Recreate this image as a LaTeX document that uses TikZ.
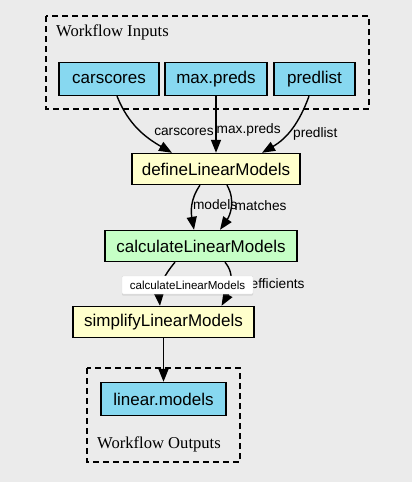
\documentclass[tikz,border=0pt]{standalone}
\usepackage{fontspec}
\setmainfont{Liberation Serif}
\setsansfont{Liberation Sans}
\usetikzlibrary{positioning}
\usetikzlibrary{arrows.meta}
\usetikzlibrary{shadows}
\definecolor{inblue}{RGB}{135,216,240}
\definecolor{stepyellow}{RGB}{255,255,204}
\definecolor{stepgreen}{RGB}{198,255,198}
\definecolor{bggray}{RGB}{235,235,235}
\tikzstyle{D} = [rectangle,draw,line width=1.4pt,fill=inblue,minimum height=33pt,inner sep=0pt,font=\sffamily\fontsize{17}{20}\selectfont]
\tikzstyle{P} = [rectangle,draw,line width=1.4pt,fill=stepyellow,minimum height=31pt,inner sep=0pt,font=\sffamily\fontsize{17}{20}\selectfont]
\tikzstyle{C} = [draw,dashed,line width=1.4pt,dash pattern=on 6pt off 4pt]
\tikzstyle{L} = [right,inner sep=1pt,font=\sffamily\fontsize{13.7}{16}\selectfont]
\tikzstyle{T} = [font=\fontsize{16.6}{19}\selectfont,anchor=west,inner sep=0pt]
\tikzstyle{E} = [-{Triangle[length=13pt,width=10pt]},line width=1.4pt]

\begin{document}
\begin{tikzpicture}[x=1pt,y=1pt]
	\fill [bggray] (0,0) rectangle (412,-482);
	\useasboundingbox (0,0) rectangle (412,-482);
	%%%%%%%%%%%%%%%
	\draw [C] (46,-16) rectangle (369,-109);
	\node [T] (tin) at(56,-32) {Workflow Inputs};
	\node [D,minimum width=100pt] (cs) at(109,-79) {carscores};
	\node [D,minimum width=102pt] (mp) at(216,-79) {max.preds};
	\node [D,minimum width=81pt] (pl) at(314.5,-79) {predlist};
	%%%%%%%%%%%%%%%
	\node [P,minimum width=168pt] (def) at(216,-169) {defineLinearModels};
	\node [P,fill=stepgreen,minimum width=192pt] (calc) at(201,-246) {calculateLinearModels};
	\node [P,minimum width=181pt] (simp) at(163.5,-322) {simplifyLinearModels};
	%%%%%%%%%%%%%%%
	\draw [C] (87,-368) rectangle (240,-462);
	\node [D,minimum width=125pt] (lm) at(163.5,-399) {linear.models};
	\node [T] (tout) at(97,-444) {Workflow Outputs};
	%%%%%%%%%%%%%%%
	\draw [E] ([xshift=8pt]cs.south) to[out=-68,in=150] node[L,pos=0.55,xshift=11pt] {carscores} ([xshift=-44pt]def.north);
	\draw [E] (mp.south) -- node[L,pos=0.6,inner sep=0pt] {max.preds} (def.north);
	\draw [E] ([xshift=-5.5pt]pl.south) to[out=-110,in=30] node[L,pos=0.6,xshift=5pt] {predlist} ([xshift=46pt]def.north);
	%----
	\draw [E] ([xshift=-16pt]def.south) to[out=-125,in=100] node[L,pos=0.45,inner sep=0pt] {models} ([xshift=-7pt]calc.north);
	\draw [E] ([xshift=11pt]def.south) to[out=-60,in=55] node[L,pos=0.45,xshift=3pt,inner sep=0pt] {matches} ([xshift=19pt]calc.north);
	%----
	\draw [E] ([xshift=-26pt]calc.south) to[out=-130,in=95] node[L,pos=0.5] {models} ([xshift=-3.5pt]simp.north);
	\draw [E] ([xshift=24pt]calc.south) to[out=-50,in=60] node[L,pos=0.5,xshift=4pt] {coefficients} ([xshift=58pt]simp.north);
	\draw [E] (simp.south) -- (lm.north);
	%%%%%%%%%%%%%%%
	\node [fill=white,draw=black!12,rounded corners=1pt,drop shadow={opacity=0.2,shadow xshift=0pt,shadow yshift=-1.5pt},minimum width=131pt,minimum height=18pt,inner sep=0pt,font=\sffamily\fontsize{11.6}{13}\selectfont] (tip) at(187.5,-285) {calculateLinearModels};
\end{tikzpicture}
\end{document}
